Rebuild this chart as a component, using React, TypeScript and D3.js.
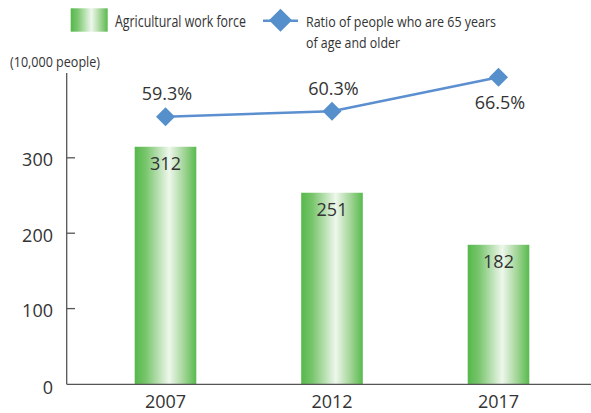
import React from "react";
import * as d3 from "d3";

const years = ["2007", "2012", "2017"];
const workForce = [312, 251, 182];
const ratio65 = [59.3, 60.3, 66.5];
const yTicks = [0, 100, 200, 300];
const ratioLabelPos = ["above", "above", "below"];

const W = 591;
const H = 413;
const FONT = "'Open Sans', 'Noto Sans', sans-serif";
const TEXT = "#333333";

export default function App() {
  const x = d3
    .scaleBand<string>()
    .domain(years)
    .range([82.25, 581.75])
    .paddingInner(0.63)
    .paddingOuter(0.315);
  const y = d3.scaleLinear().domain([0, 300]).range([384, 157.8]);
  const y2 = d3.scaleLinear().domain([40, 70]).range([222.3, 58.2]);

  const cx = (d: string) => (x(d) as number) + x.bandwidth() / 2;
  const line = d3
    .line<number>()
    .x((_, i) => cx(years[i]))
    .y((v) => y2(v));

  const diamond = (px: number, py: number, r: number) =>
    `M${px},${py - r}L${px + r},${py}L${px},${py + r}L${px - r},${py}Z`;

  return (
    <svg
      width={W}
      height={H}
      viewBox={`0 0 ${W} ${H}`}
      style={{ position: "absolute", left: 0, top: 0, background: "#fff" }}
      fontFamily={FONT}
    >
      <defs>
        <linearGradient id="barGrad" x1="0" x2="1" y1="0" y2="0">
          <stop offset="0" stopColor="#55b84a" />
          <stop offset="0.18" stopColor="#78c56c" />
          <stop offset="0.56" stopColor="#eef7ec" />
          <stop offset="0.8" stopColor="#a2d597" />
          <stop offset="1" stopColor="#58ba4d" />
        </linearGradient>
      </defs>

      {/* Legend */}
      <rect x={70.7} y={8.3} width={37} height={23.4} fill="url(#barGrad)" />
      <text x={115} y={27} fontSize={16.5} fill={TEXT} textLength={131} lengthAdjust="spacingAndGlyphs">
        Agricultural work force
      </text>
      <line x1={263} x2={298} y1={20.7} y2={20.7} stroke="#5b8fd0" strokeWidth={2.5} />
      <path d={diamond(280.5, 20.3, 11.5)} fill="#5590cc" />
      <text x={306} y={27} fontSize={15} fill={TEXT} textLength={190} lengthAdjust="spacingAndGlyphs">
        Ratio of people who are 65 years
      </text>
      <text x={306} y={48} fontSize={15} fill={TEXT} textLength={94} lengthAdjust="spacingAndGlyphs">
        of age and older
      </text>

      {/* Unit */}
      <text x={10} y={67} fontSize={15} fill={TEXT} textLength={90} lengthAdjust="spacingAndGlyphs">
        (10,000 people)
      </text>

      {/* Bars */}
      {workForce.map((v, i) => (
        <g key={years[i]}>
          <rect
            x={x(years[i])}
            y={y(v) - 2}
            width={x.bandwidth()}
            height={384 - y(v) + 2}
            fill="url(#barGrad)"
          />
          <text x={cx(years[i])} y={y(v) + 21.5} fontSize={18} fill={TEXT} textAnchor="middle">
            {v}
          </text>
        </g>
      ))}

      {/* Axes */}
      <line x1={66.7} x2={66.7} y1={73} y2={384.3} stroke="#555" strokeWidth={1.3} />
      <line x1={66.7} x2={591} y1={384.3} y2={384.3} stroke="#555" strokeWidth={1.3} />
      {yTicks.map((t) => (
        <g key={t}>
          {t > 0 && <line x1={66.7} x2={75} y1={y(t)} y2={y(t)} stroke="#555" strokeWidth={1.3} />}
          <text x={53} y={y(t) + (t === 0 ? 9.5 : 8.3)} fontSize={18} fill={TEXT} textAnchor="end">
            {t}
          </text>
        </g>
      ))}
      {years.map((yr) => (
        <text key={yr} x={cx(yr)} y={407.5} fontSize={18} fill={TEXT} textAnchor="middle">
          {yr}
        </text>
      ))}

      {/* Line series */}
      <path d={line(ratio65) || ""} fill="none" stroke="#5b8fd0" strokeWidth={2.5} />
      {ratio65.map((v, i) => (
        <g key={i}>
          <path d={diamond(cx(years[i]), y2(v), 9.5)} fill="#5590cc" />
          <text
            x={cx(years[i]) + 1.5}
            y={ratioLabelPos[i] === "above" ? y2(v) - 16.7 : y2(v) + 32}
            fontSize={18}
            fill={TEXT}
            textAnchor="middle"
          >
            {v.toFixed(1)}%
          </text>
        </g>
      ))}
    </svg>
  );
}
